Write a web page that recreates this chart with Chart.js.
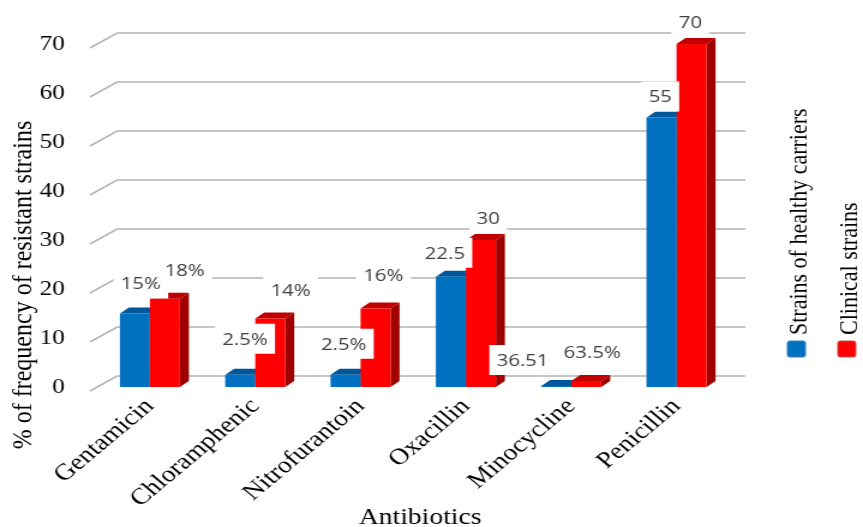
<!DOCTYPE html>
<html>
<head>
<meta charset="utf-8">
<script src="https://cdn.jsdelivr.net/npm/chart.js@4.4.1/dist/chart.umd.min.js"></script>
<style>
html, body { margin: 0; padding: 0; background: #fff; overflow: hidden; }
#chart { display: block; }
</style>
</head>
<body>
<!-- the original picture is stretched sideways, so the canvas is drawn narrow and widened by css -->
<canvas id="chart" width="719" height="527" style="width:863px;height:527px"></canvas>
<script>
const antibiotics = ['Gentamicin', 'Chloramphenic', 'Nitrofurantoin', 'Oxacillin', 'Minocycline', 'Penicillin'];
const healthyCarriers = [15, 2.5, 2.5, 22.5, 0.2, 55];
const clinicalStrains = [18, 14, 16, 30, 1.2, 70];
const healthyLabels = ['15%', '2.5%', '2.5%', '22.5', '36.51', '55'];
const clinicalLabels = ['18%', '14%', '16%', '30', '63.5%', '70'];

// small nudges of the value boxes, relative to the top of their bar
const healthyNudgeX = [5, 4, -1.5, -5, -28, -1];
const healthyNudgeY = [-30, -36, -31, -24, -26, -21];
const clinicalNudgeX = [16.5, 17, 6.5, 6, 5, -1];
const clinicalNudgeY = [-29, -28, -33, -22, -29, -22];

const faceColors = [
    { top: '#00589A', side: '#004C85' },
    { top: '#C00000', side: '#A00000' }
];
const depthX = 7.5, depthY = 6;
const serif = '"Liberation Serif", "Times New Roman", serif';

// grid with the slanted floor edge, then the top and side faces of the bars
const boxesPlugin = {
    id: 'boxes',
    beforeDatasetsDraw(chart) {
        const ctx = chart.ctx;
        const area = chart.chartArea;
        const y = chart.scales.y;
        ctx.save();
        ctx.strokeStyle = '#B4B4B4';
        ctx.lineWidth = 1.6;
        y.ticks.forEach(t => {
            const py = y.getPixelForValue(t.value);
            ctx.beginPath();
            ctx.moveTo(area.left - 6, py + 4);
            ctx.lineTo(area.left + 16.5, py - 11);
            ctx.lineTo(area.right + 13.5, py - 11);
            ctx.stroke();
        });

        antibiotics.forEach((name, i) => {
            chart.data.datasets.forEach((ds, d) => {
                const el = chart.getDatasetMeta(d).data[i];
                const p = el.getProps(['x', 'y', 'base', 'width'], true);
                const l = p.x - p.width / 2, r = p.x + p.width / 2;
                ctx.fillStyle = faceColors[d].top;
                ctx.beginPath();
                ctx.moveTo(l, p.y);
                ctx.lineTo(l + depthX, p.y - depthY);
                ctx.lineTo(r + depthX, p.y - depthY);
                ctx.lineTo(r, p.y);
                ctx.closePath();
                ctx.fill();
                ctx.fillStyle = faceColors[d].side;
                ctx.beginPath();
                ctx.moveTo(r, p.y);
                ctx.lineTo(r + depthX, p.y - depthY);
                ctx.lineTo(r + depthX, p.base - depthY);
                ctx.lineTo(r, p.base);
                ctx.closePath();
                ctx.fill();
            });
        });
        ctx.restore();
    },
    afterDatasetsDraw(chart) {
        const ctx = chart.ctx;
        const texts = [healthyLabels, clinicalLabels];
        const nx = [healthyNudgeX, clinicalNudgeX];
        const ny = [healthyNudgeY, clinicalNudgeY];
        ctx.save();
        ctx.font = '17px "Open Sans", sans-serif';
        ctx.textAlign = 'center';
        ctx.textBaseline = 'middle';
        antibiotics.forEach((name, i) => {
            [0, 1].forEach(d => {
                const el = chart.getDatasetMeta(d).data[i];
                const cx = el.x + nx[d][i];
                const cy = el.y + ny[d][i];
                const w = ctx.measureText(texts[d][i]).width + 12;
                ctx.fillStyle = '#FFFFFF';
                ctx.fillRect(cx - w / 2, cy - 15, w, 30);
                ctx.fillStyle = '#404040';
                ctx.fillText(texts[d][i], cx, cy + 1);
            });
        });

        // axis titles
        ctx.fillStyle = '#000000';
        ctx.font = '24px ' + serif;
        ctx.save();
        ctx.translate(20, 285);
        ctx.rotate(-Math.PI / 2);
        ctx.fillText('% of frequency of resistant strains', 0, 0);
        ctx.restore();
        ctx.font = '23px ' + serif;
        ctx.textBaseline = 'alphabetic';
        ctx.fillText('Antibiotics', 350, 524);

        // legend, written upwards on the right
        const legend = [
            { text: 'Strains of healthy carriers', color: '#0070C0', x: 664 },
            { text: 'Clinical strains', color: '#FF0000', x: 706 }
        ];
        legend.forEach(item => {
            ctx.fillStyle = item.color;
            ctx.strokeStyle = item.color === '#0070C0' ? '#3A7FC0' : '#C05050';
            ctx.lineWidth = 1;
            ctx.beginPath();
            ctx.roundRect(item.x - 8, 341, 15, 16, 2);
            ctx.fill();
            ctx.stroke();
            ctx.save();
            ctx.fillStyle = '#000000';
            ctx.font = '22px ' + serif;
            ctx.translate(item.x + 2, 335);
            ctx.rotate(-Math.PI / 2);
            ctx.textAlign = 'left';
            ctx.textBaseline = 'middle';
            ctx.fillText(item.text, 0, 0);
            ctx.restore();
        });
        ctx.restore();
    }
};

new Chart(document.getElementById('chart'), {
    type: 'bar',
    data: {
        labels: antibiotics,
        datasets: [
            { label: 'Strains of healthy carriers', data: healthyCarriers, backgroundColor: '#0070C0' },
            { label: 'Clinical strains', data: clinicalStrains, backgroundColor: '#FF0000' }
        ]
    },
    options: {
        responsive: false,
        devicePixelRatio: 1,
        animation: false,
        layout: { padding: { top: 44, right: 111.5, bottom: 0, left: 0 } },
        datasets: { bar: { barPercentage: 1, categoryPercentage: 0.57 } },
        scales: {
            x: {
                grid: { display: false, drawTicks: false },
                border: { display: false },
                ticks: {
                    minRotation: 45, maxRotation: 45, padding: 6, color: '#000000',
                    font: { family: serif, size: 23 }
                },
                afterFit: s => { s.height = 140; }
            },
            y: {
                min: 0, max: 70,
                grid: { display: false, drawTicks: false },
                border: { display: false },
                ticks: { stepSize: 10, padding: 27, color: '#000000', font: { family: serif, size: 21 } },
                afterFit: s => { s.width = 81; }
            }
        },
        plugins: { legend: { display: false }, tooltip: { enabled: false } }
    },
    plugins: [boxesPlugin]
});
</script>
</body>
</html>
